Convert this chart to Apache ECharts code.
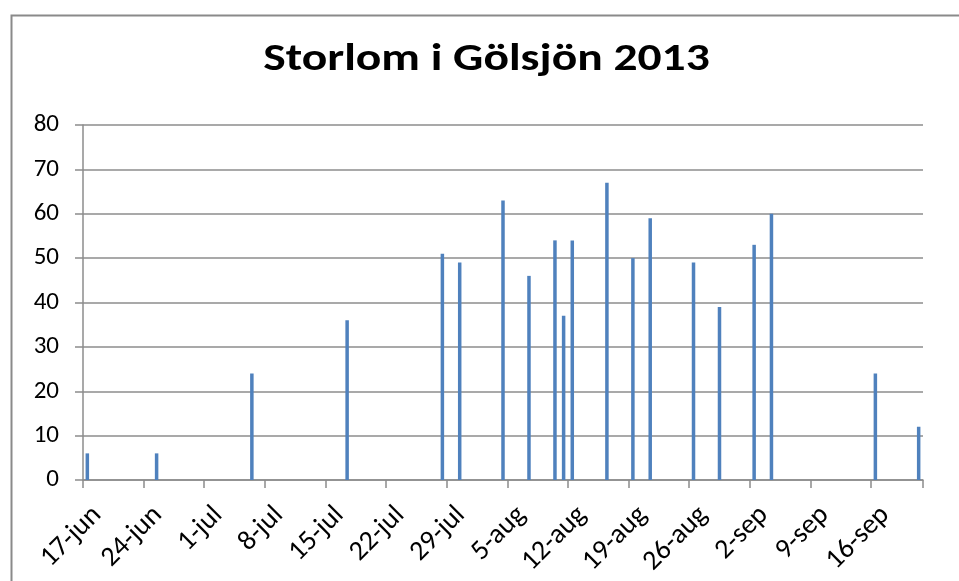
<!DOCTYPE html>
<html>
<head>
<meta charset="utf-8">
<script src="https://cdn.jsdelivr.net/npm/echarts@6/dist/echarts.min.js"></script>
<style>
html,body{margin:0;padding:0;background:#fff;}
#chart{width:959px;height:581px;}
</style>
</head>
<body>
<div id="chart"></div>
<script>
// ---- data ----
const chartTitle = 'Storlom i Gölsjön 2013';
const axisStart = '2013-06-17';
const axisEnd = '2013-09-21';
const monthNames = ['jan','feb','mar','apr','maj','jun','jul','aug','sep','okt','nov','dec'];
const obsDates = ['2013-06-17','2013-06-25','2013-07-06','2013-07-17','2013-07-28','2013-07-30',
  '2013-08-04','2013-08-07','2013-08-10','2013-08-11','2013-08-12','2013-08-16','2013-08-19',
  '2013-08-21','2013-08-26','2013-08-29','2013-09-02','2013-09-04','2013-09-16','2013-09-21'];
const obsCounts = [6,6,24,36,51,49,63,46,54,37,54,67,50,59,49,39,53,60,24,12];
const yTicks = [0,10,20,30,40,50,60,70,80];

// ---- build category (day) axis ----
function parseD(s){const p=s.split('-');return new Date(Date.UTC(+p[0],+p[1]-1,+p[2]));}
function keyD(d){return d.toISOString().slice(0,10);}
const days = [];
for (let d = parseD(axisStart); d <= parseD(axisEnd); d = new Date(d.getTime()+86400000)) {
  days.push(keyD(d));
}
const seriesData = obsDates.map((k,i)=>[k, obsCounts[i]]);

const fontFam = 'Carlito, "Open Sans", "Liberation Sans", sans-serif';
const gridCol = '#8c8c8c';

const chart = echarts.init(document.getElementById('chart'), null, {renderer:'canvas'});
chart.setOption({
  backgroundColor:'#fff',
  animation:false,
  graphic:[{
    type:'rect', left:9, top:13, silent:true,
    shape:{x:0,y:0,width:1000,height:1000},
    style:{fill:'none', stroke:'#8a8a8a', lineWidth:2}
  },{
    type:'text', x:486.5, y:60, scaleX:1.25, silent:true,
    style:{text:chartTitle, x:0, y:0, align:'center', verticalAlign:'middle',
      font:'bold 38px ' + fontFam, fill:'#000'}
  }],
  grid:{left:83, right:36, top:125, bottom:101, containLabel:false},
  xAxis:{
    type:'category',
    data: days,
    boundaryGap:true,
    axisLine:{show:true, lineStyle:{color:gridCol, width:1.5}},
    axisTick:{show:true, interval:6, length:8, alignWithLabel:false, lineStyle:{color:gridCol, width:1.5}},
    axisLabel:{
      interval:6, rotate:45, margin:21, verticalAlign:'top',
      fontFamily:fontFam, fontSize:28, color:'#000',
      formatter:(v)=>{const d=parseD(v);return d.getUTCDate()+'-'+monthNames[d.getUTCMonth()];}
    },
    splitLine:{show:false}
  },
  yAxis:{
    type:'value', min:yTicks[0], max:yTicks[yTicks.length-1], interval:yTicks[1]-yTicks[0],
    axisLine:{show:true, lineStyle:{color:gridCol, width:1.5}},
    axisTick:{show:true, length:8, lineStyle:{color:gridCol, width:1.5}},
    axisLabel:{margin:24, fontFamily:fontFam, fontSize:25, color:'#000'},
    splitLine:{show:true, lineStyle:{color:gridCol, width:1.5}}
  },
  series:[{
    type:'bar',
    data: seriesData,
    barWidth:3.5,
    itemStyle:{color:'#4F81BD'}
  }]
});
</script>
</body>
</html>
